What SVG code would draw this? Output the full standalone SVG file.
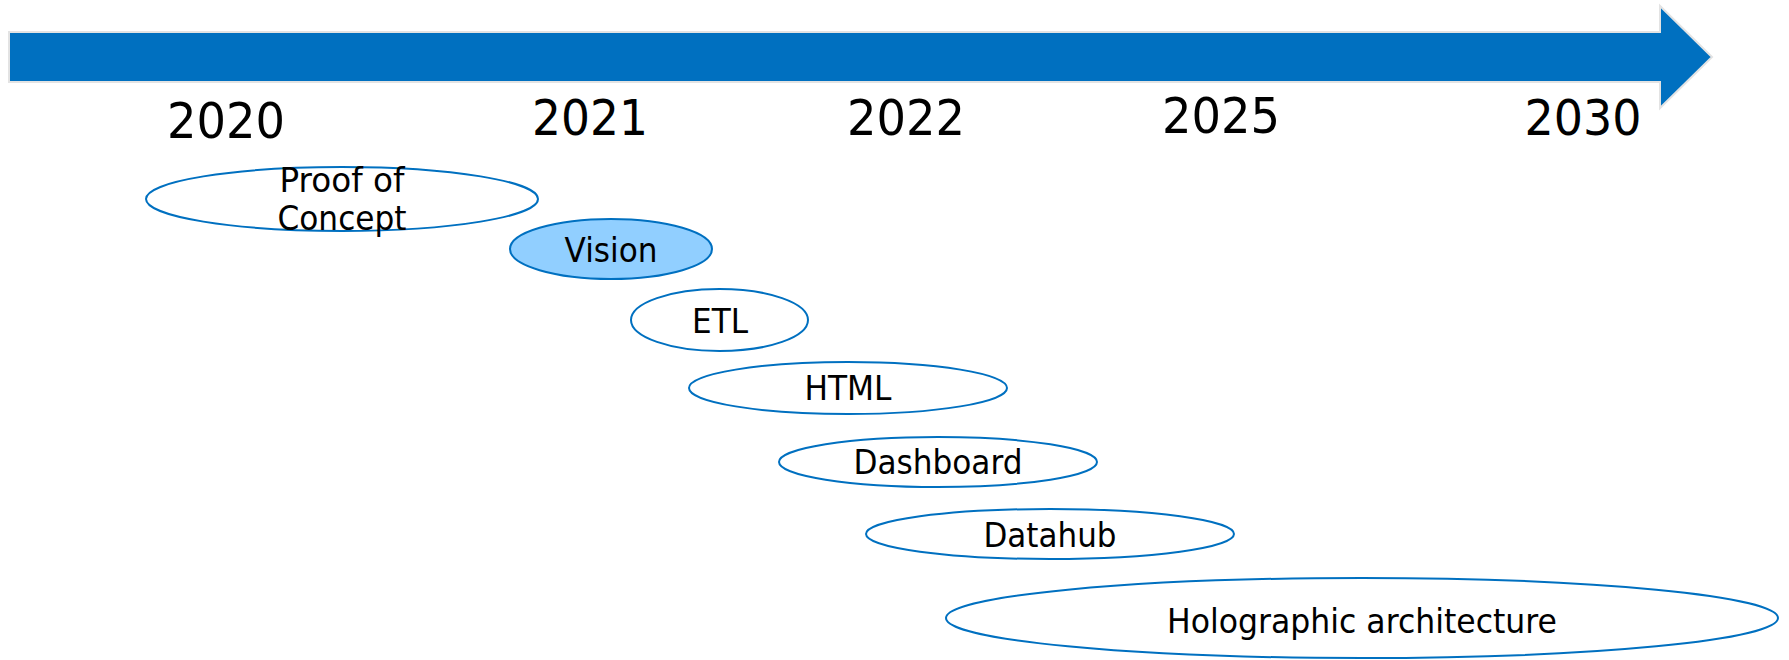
<svg xmlns="http://www.w3.org/2000/svg" width="1789" height="660" viewBox="0 0 1789 660">
<style>
.yr{font-family:"DejaVu Sans",Verdana,sans-serif;font-size:50px;fill:#000;text-anchor:middle}
.lbl{font-family:"DejaVu Sans",Verdana,sans-serif;font-size:33px;fill:#000;text-anchor:middle}
.node{fill:#fff;stroke:#0070C0;stroke-width:2}
.hl{fill:#91CFFF}
</style>
<rect width="1789" height="660" fill="#fff"/>
<g id="timeline-arrow">
<path d="M9,32 L1660,32 L1660,6 L1712,57 L1660,108 L1660,82 L9,82 Z" fill="#0070C0" stroke="#E3E3E3" stroke-width="2"/>
</g>
<g id="years">
<text class="yr" x="226" y="138" textLength="118" lengthAdjust="spacingAndGlyphs">2020</text>
<text class="yr" x="590" y="135" textLength="116" lengthAdjust="spacingAndGlyphs">2021</text>
<text class="yr" x="906" y="135" textLength="118" lengthAdjust="spacingAndGlyphs">2022</text>
<text class="yr" x="1221" y="133" textLength="118" lengthAdjust="spacingAndGlyphs">2025</text>
<text class="yr" x="1583" y="135" textLength="117" lengthAdjust="spacingAndGlyphs">2030</text>
</g>
<g id="connectors"></g>
<g id="poc">
<ellipse class="node" cx="342" cy="199" rx="196" ry="32"/>
<text class="lbl" x="342" y="192" textLength="125" lengthAdjust="spacingAndGlyphs">Proof of</text>
<text class="lbl" x="342" y="230" textLength="129" lengthAdjust="spacingAndGlyphs">Concept</text>
</g>
<g id="vision">
<ellipse class="node hl" cx="611" cy="249" rx="101" ry="30"/>
<text class="lbl" x="611" y="262" textLength="93" lengthAdjust="spacingAndGlyphs">Vision</text>
</g>
<g id="etl">
<ellipse class="node" cx="719.5" cy="320" rx="88.5" ry="31"/>
<text class="lbl" x="720" y="333" textLength="56" lengthAdjust="spacingAndGlyphs">ETL</text>
</g>
<g id="html">
<ellipse class="node" cx="848" cy="388" rx="159" ry="26"/>
<text class="lbl" x="848" y="400" textLength="87" lengthAdjust="spacingAndGlyphs">HTML</text>
</g>
<g id="dashboard">
<ellipse class="node" cx="938" cy="462" rx="159" ry="25"/>
<text class="lbl" x="938" y="474" textLength="169" lengthAdjust="spacingAndGlyphs">Dashboard</text>
</g>
<g id="datahub">
<ellipse class="node" cx="1050" cy="534" rx="184" ry="25"/>
<text class="lbl" x="1050" y="547" textLength="133" lengthAdjust="spacingAndGlyphs">Datahub</text>
</g>
<g id="holographic">
<ellipse class="node" cx="1362" cy="618" rx="416" ry="40"/>
<text class="lbl" x="1362" y="633" textLength="390" lengthAdjust="spacingAndGlyphs">Holographic architecture</text>
</g>
</svg>
